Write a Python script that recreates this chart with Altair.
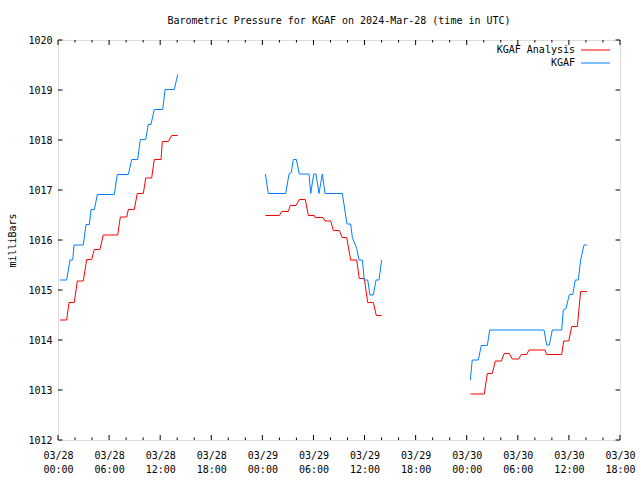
import json
import altair as alt
import pandas as pd

# ---------------- data (hours after 2024-03-28 00:00 UTC, millibars) ----------------
series_names = ["KGAF Analysis", "KGAF"]
series_colors = ["#ff0000", "#0080ff"]

# KGAF Analysis (red)
ana_seg1_h = [0.23, 1.02, 1.29, 1.91, 2.27, 2.97, 3.37, 3.96, 4.26, 4.93, 5.32, 7.01, 7.32, 8.07, 8.26,
              8.96, 9.31, 10.02, 10.30, 11.00, 11.31, 12.10, 12.25, 12.95, 13.35, 14.06]
ana_seg1_v = [1014.40, 1014.40, 1014.75, 1014.75, 1015.18, 1015.18, 1015.61, 1015.61, 1015.81, 1015.81,
              1016.10, 1016.10, 1016.46, 1016.46, 1016.61, 1016.61, 1016.93, 1016.93, 1017.24, 1017.24,
              1017.61, 1017.61, 1017.97, 1017.97, 1018.09, 1018.09]
ana_seg2_h = [24.35, 25.99, 26.27, 27.05, 27.28, 27.95, 28.34, 29.04, 29.40, 30.10, 30.18, 31.12, 31.36,
              32.03, 32.33, 33.04, 33.39, 33.90, 34.37, 35.08, 35.38, 35.97, 36.37, 37.03, 37.38, 38.01]
ana_seg2_v = [1016.49, 1016.49, 1016.57, 1016.57, 1016.69, 1016.69, 1016.81, 1016.81, 1016.49, 1016.49,
              1016.45, 1016.45, 1016.38, 1016.38, 1016.19, 1016.19, 1016.05, 1016.05, 1015.60, 1015.60,
              1015.23, 1015.23, 1014.75, 1014.75, 1014.49, 1014.49]
ana_seg3_h = [48.42, 50.06, 50.42, 51.00, 51.36, 52.06, 52.41, 53.00, 53.35, 54.10, 54.41, 55.04, 55.31,
              57.19, 57.39, 59.15, 59.39, 59.98, 60.33, 60.99, 61.38, 62.12]
ana_seg3_v = [1012.92, 1012.92, 1013.33, 1013.33, 1013.58, 1013.58, 1013.73, 1013.73, 1013.62, 1013.62,
              1013.71, 1013.71, 1013.80, 1013.80, 1013.71, 1013.71, 1013.98, 1013.98, 1014.27, 1014.27,
              1014.97, 1014.97]

# KGAF observations (blue)
obs_seg1_h = [0.23, 1.02, 1.41, 1.73, 1.88, 2.97, 3.29, 3.68, 3.88, 4.27, 4.62, 6.61, 6.96, 8.26, 8.66,
              9.36, 9.67, 10.30, 10.60, 10.92, 11.30, 12.30, 12.57, 13.66, 14.06]
obs_seg1_v = [1015.20, 1015.20, 1015.60, 1015.60, 1015.90, 1015.90, 1016.31, 1016.31, 1016.61, 1016.61,
              1016.91, 1016.91, 1017.31, 1017.31, 1017.61, 1017.61, 1018.01, 1018.01, 1018.31, 1018.31,
              1018.61, 1018.61, 1019.01, 1019.01, 1019.31]
obs_seg2_h = [24.35, 24.70, 26.74, 27.13, 27.40, 27.63, 27.99, 28.34, 29.48, 29.68, 30.03, 30.30, 30.65,
              31.04, 31.36, 33.39, 33.94, 34.37, 34.57, 35.08, 35.35, 35.74, 35.97, 36.37, 36.64, 37.03,
              37.35, 37.70, 38.01]
obs_seg2_v = [1017.32, 1016.93, 1016.93, 1017.32, 1017.35, 1017.61, 1017.61, 1017.32, 1017.32, 1016.93,
              1017.32, 1017.32, 1016.93, 1017.32, 1016.93, 1016.93, 1016.32, 1016.32, 1016.05, 1015.83,
              1015.60, 1015.60, 1015.20, 1015.20, 1014.90, 1014.90, 1015.20, 1015.20, 1015.60]
obs_seg3_h = [48.42, 48.65, 49.36, 49.71, 50.42, 50.70, 57.08, 57.39, 57.70, 58.05, 59.15, 59.34, 59.66,
              60.05, 60.45, 60.75, 61.10, 61.38, 61.77, 62.12]
obs_seg3_v = [1013.20, 1013.60, 1013.60, 1013.89, 1013.89, 1014.20, 1014.20, 1013.90, 1013.90, 1014.20,
              1014.20, 1014.60, 1014.63, 1014.91, 1014.91, 1015.20, 1015.20, 1015.60, 1015.90, 1015.90]

# axis ticks and labels
x_major_hours = [0, 6, 12, 18, 24, 30, 36, 42, 48, 54, 60, 66]
x_tick_dates = ["03/28", "03/28", "03/28", "03/28", "03/29", "03/29", "03/29", "03/29",
                "03/30", "03/30", "03/30", "03/30"]
x_tick_times = ["00:00", "06:00", "12:00", "18:00"] * 3
x_minor_hours = [2, 4, 8, 10, 14, 16, 20, 22, 26, 28, 32, 34, 38, 40, 44, 46, 50, 52, 56, 58, 62, 64]
y_ticks = [1012, 1013, 1014, 1015, 1016, 1017, 1018, 1019, 1020]

# ---------------- tables ----------------
rows = []
for name, segs in [
    (series_names[0], [(ana_seg1_h, ana_seg1_v), (ana_seg2_h, ana_seg2_v), (ana_seg3_h, ana_seg3_v)]),
    (series_names[1], [(obs_seg1_h, obs_seg1_v), (obs_seg2_h, obs_seg2_v), (obs_seg3_h, obs_seg3_v)]),
]:
    for i, (hs, vs) in enumerate(segs):
        for h, v in zip(hs, vs):
            rows.append({"hours": h, "value": v, "series": name, "seg": f"{name}-{i}"})
df = pd.DataFrame(rows)

major_df = pd.DataFrame({"hours": x_major_hours})
minor_df = pd.DataFrame({"hours": x_minor_hours})
ytick_df = pd.DataFrame({"value": y_ticks})

FONT = "DejaVu Sans Mono"
W, H = 562, 400

label_expr = (
    f"[{json.dumps(x_tick_dates)}[indexof({json.dumps(x_major_hours)}, datum.value)], "
    f"{json.dumps(x_tick_times)}[indexof({json.dumps(x_major_hours)}, datum.value)]]"
)

x_scale = alt.Scale(domain=[0, 66], nice=False, zero=False)
y_scale = alt.Scale(domain=[1012, 1020], nice=False, zero=False)
color_scale = alt.Scale(domain=series_names, range=series_colors)

x_axis = alt.Axis(values=x_major_hours, labelExpr=label_expr, ticks=False, tickSize=0, domain=False,
                  grid=False, labelFont=FONT, labelFontSize=10, labelColor="black",
                  labelPadding=10, labelLineHeight=14, labelFlush=False, labelOverlap=False)
y_axis = alt.Axis(values=y_ticks, ticks=False, tickSize=0, domain=False, grid=False, format="d",
                  labelFont=FONT, labelFontSize=10, labelColor="black", labelPadding=6,
                  title="milliBars", titleFont=FONT, titleFontSize=10, titleFontWeight="normal",
                  titleColor="black", titlePadding=10)

X = alt.X("hours:Q", scale=x_scale, axis=x_axis, title=None)
Y = alt.Y("value:Q", scale=y_scale, axis=y_axis, title="milliBars")

lines = alt.Chart(df).mark_line(strokeWidth=1, clip=True).encode(
    x=X, y=Y,
    color=alt.Color("series:N", scale=color_scale, legend=None),
    detail="seg:N",
)

maj_bot = alt.Chart(major_df).mark_rule(color="black", strokeWidth=1).encode(
    x=X, y=alt.value(H), y2=alt.value(H - 5))
maj_top = alt.Chart(major_df).mark_rule(color="black", strokeWidth=1).encode(
    x=X, y=alt.value(0), y2=alt.value(5))
min_bot = alt.Chart(minor_df).mark_rule(color="black", strokeWidth=1).encode(
    x=X, y=alt.value(H), y2=alt.value(H - 2.5))
min_top = alt.Chart(minor_df).mark_rule(color="black", strokeWidth=1).encode(
    x=X, y=alt.value(0), y2=alt.value(2.5))
y_left = alt.Chart(ytick_df).mark_rule(color="black", strokeWidth=1).encode(
    y=Y, x=alt.value(0), x2=alt.value(4.5))
y_right = alt.Chart(ytick_df).mark_rule(color="black", strokeWidth=1).encode(
    y=Y, x=alt.value(W), x2=alt.value(W - 4.5))

legend_layers = []
for i, name in enumerate(series_names):
    ldf = pd.DataFrame({"series": [name]})
    ypos = 10 + 13 * i
    legend_layers.append(
        alt.Chart(ldf).mark_text(align="right", baseline="middle", font=FONT, fontSize=10,
                                 color="black").encode(
            text="series:N", x=alt.value(517), y=alt.value(ypos)))
    legend_layers.append(
        alt.Chart(ldf).mark_rule(strokeWidth=1).encode(
            x=alt.value(523), x2=alt.value(552), y=alt.value(ypos),
            color=alt.Color("series:N", scale=color_scale, legend=None)))

chart = alt.layer(
    lines, maj_bot, maj_top, min_bot, min_top, y_left, y_right, *legend_layers
).properties(
    width=W, height=H,
    title=alt.TitleParams("Barometric Pressure for KGAF on 2024-Mar-28 (time in UTC)",
                          font=FONT, fontSize=10, fontWeight="normal", color="black",
                          anchor="middle", offset=9),
    autosize=alt.AutoSizeParams(type="none"),
    padding={"left": 58, "top": 40, "right": 20, "bottom": 40},
).configure_view(stroke="black", strokeWidth=1).configure(background="white")

chart.save("out.html", embed_options={"renderer": "svg", "actions": False})
